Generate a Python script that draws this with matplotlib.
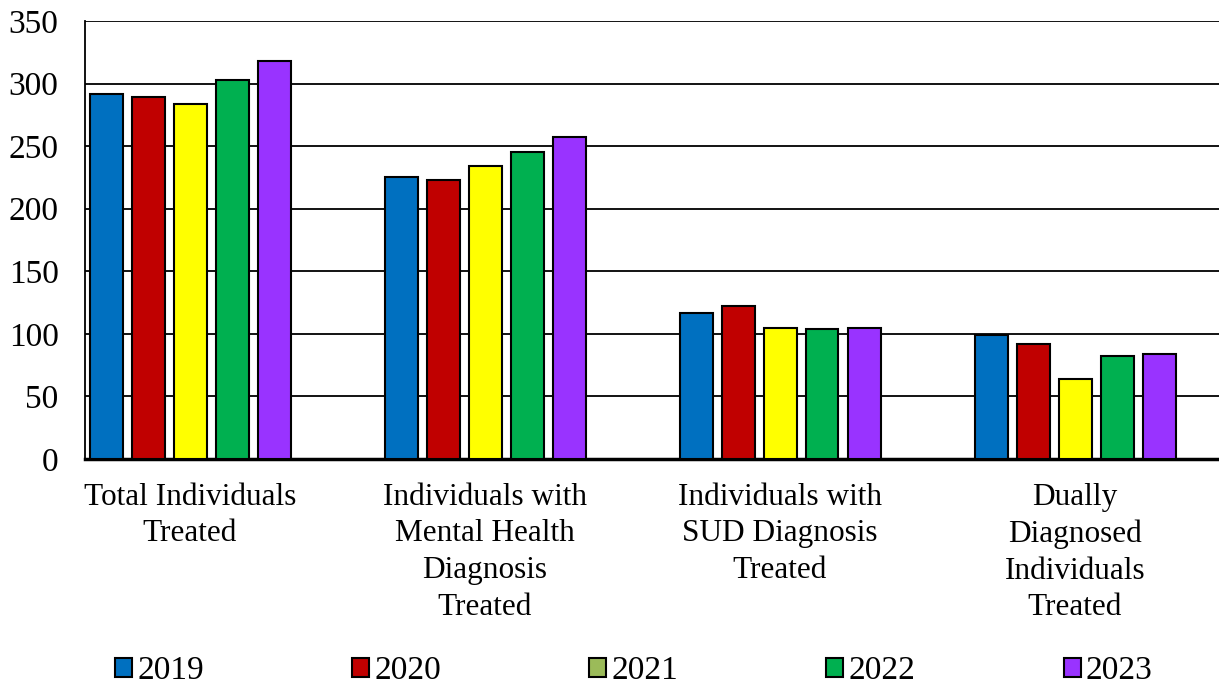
import numpy as np
import matplotlib.pyplot as plt
from matplotlib.patches import Patch

plt.rcParams['font.family'] = ['Liberation Serif', 'DejaVu Serif']

categories = ['Total Individuals\nTreated',
              'Individuals with\nMental Health\nDiagnosis\nTreated',
              'Individuals with\nSUD Diagnosis\nTreated',
              'Dually\nDiagnosed\nIndividuals\nTreated']
years = ['2019', '2020', '2021', '2022', '2023']
v2019 = [292, 225, 117, 99]
v2020 = [289, 223, 122, 92]
v2021 = [284, 234, 105, 64]
v2022 = [303, 245, 104, 82]
v2023 = [318, 257, 105, 84]
series = [v2019, v2020, v2021, v2022, v2023]

bar_colors = ['#0070C0', '#C00000', '#FFFF00', '#00B050', '#9933FF']
legend_colors = ['#0070C0', '#C00000', '#9BBB59', '#00B050', '#9933FF']

fig = plt.figure(figsize=(12.19, 6.86), dpi=100)
ax = fig.add_axes([85 / 1219, 1 - 459 / 686, 1 - 85 / 1219, (459 - 21) / 686])

x = np.arange(len(categories))
step = 42 / 295
width = 33 / 295
for i, vals in enumerate(series):
    ax.bar(x + (i - 2) * step, vals, width, color=bar_colors[i],
           edgecolor='black', linewidth=1.5, zorder=3)

ax.set_ylim(0, 350)
ax.set_yticks(range(0, 351, 50))
ax.set_xlim(-105 / 295, 1029 / 295)
ax.yaxis.grid(True, color='black', linewidth=1.3, zorder=0)
ax.set_axisbelow(True)

ax.set_xticks(x)
ax.set_xticklabels(categories, fontsize=22.5, linespacing=1.35)
ax.tick_params(axis='x', length=0, pad=17)
ax.tick_params(axis='y', length=0, pad=19, labelsize=24)

for s in ['top', 'right']:
    ax.spines[s].set_visible(False)
ax.spines['left'].set_linewidth(1.3)
ax.spines['bottom'].set_linewidth(2.5)

handles = [Patch(facecolor=c, edgecolor='black', linewidth=1.5) for c in legend_colors]
fig.legend(handles, years, loc='center', bbox_to_anchor=(0.52, 1 - 671 / 686),
           ncol=5, frameon=False, fontsize=24, handlelength=0.51, handleheight=0.51,
           handletextpad=0.15, columnspacing=4.45, borderpad=0)

fig.savefig('out.png', dpi=100)
